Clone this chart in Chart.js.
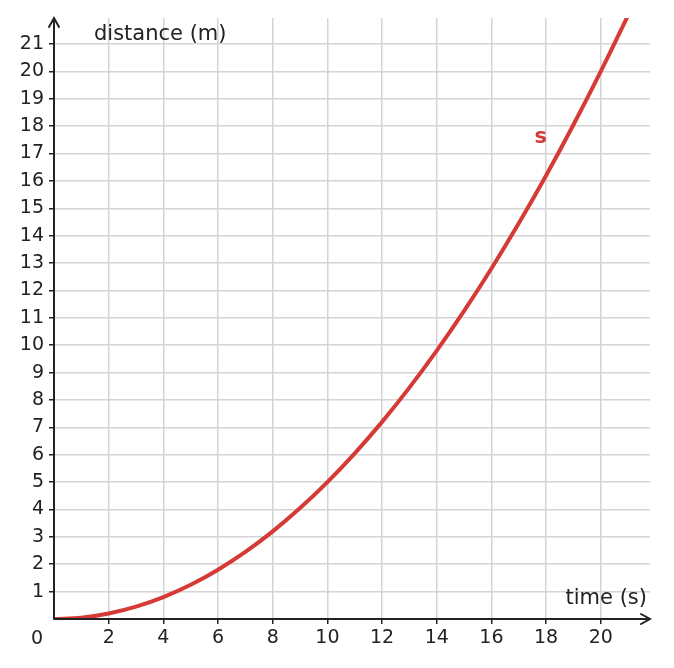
<!DOCTYPE html><html><head><meta charset="utf-8">
<script src="https://cdn.jsdelivr.net/npm/chart.js@4"></script>
<style>body{margin:0;background:#fff}#w{width:674px;height:668px}</style></head><body>
<div id="w"><canvas id="c"></canvas></div>
<script>
const times=[0,1,2,3,4,5,6,7,8,9,10,11,12,13,14,15,16,17,18,19,20,21,21.5];
const distances=[0,0.05,0.2,0.45,0.8,1.25,1.8,2.45,3.2,4.05,5,6.05,7.2,8.45,9.8,11.25,12.8,14.45,16.2,18.05,20,22.05,23.1];
const xTicks=[2,4,6,8,10,12,14,16,18,20];
const yTicks=[1,2,3,4,5,6,7,8,9,10,11,12,13,14,15,16,17,18,19,20,21];
const F='"DejaVu Sans", sans-serif', ink='#222', red='#d63a36';
const deco={id:'deco',afterDraw(ch){
 const c=ch.ctx,a=ch.chartArea,x=ch.scales.x,y=ch.scales.y;
 c.save();c.strokeStyle=ink;c.lineWidth=2;c.lineCap='round';
 const x0=x.getPixelForValue(0),y0=y.getPixelForValue(0);
 c.beginPath();c.moveTo(x0,y0);c.lineTo(a.right,y0);c.moveTo(a.right-9,y0-5);c.lineTo(a.right,y0);c.lineTo(a.right-9,y0+5);
 c.moveTo(x0,y0);c.lineTo(x0,a.top);c.moveTo(x0-5,a.top+9);c.lineTo(x0,a.top);c.lineTo(x0+5,a.top+9);c.stroke();
 c.font='21px '+F;c.fillStyle=ink;c.textBaseline='middle';
 c.textAlign='left';c.fillText('distance (m)',94,y.getPixelForValue(21.35));
 c.textAlign='right';c.fillText('time (s)',a.right-3,y.getPixelForValue(0.75));
 c.font='19px '+F;c.textAlign='center';c.fillText('0',x0-17,y0+20);
 c.font='bold 21px '+F;c.fillStyle=red;c.fillText('s',x.getPixelForValue(17.8),y.getPixelForValue(17.6));
 c.restore();}};
new Chart(document.getElementById('c'),{type:'scatter',
 data:{datasets:[{data:times.map((t,i)=>({x:t,y:distances[i]})),showLine:true,borderColor:red,borderWidth:4,pointRadius:0,tension:0.4,fill:false}]},
 options:{responsive:true,maintainAspectRatio:false,animation:false,
  layout:{padding:{top:18,right:24,left:0,bottom:0}},
  plugins:{legend:{display:false},tooltip:{enabled:false}},
  scales:{
   x:{type:'linear',min:0,max:21.8,afterBuildTicks:s=>{s.ticks=xTicks.map(v=>({value:v}))},afterFit:s=>{s.height=49},
      grid:{color:'#d4d4d4',lineWidth:1.5,tickColor:ink,tickLength:5},border:{display:false},
      ticks:{color:ink,font:{family:F,size:19},padding:3,maxRotation:0}},
   y:{type:'linear',min:0,max:21.95,afterBuildTicks:s=>{s.ticks=yTicks.map(v=>({value:v}))},afterFit:s=>{s.width=54},
      grid:{color:'#d4d4d4',lineWidth:1.5,tickColor:ink,tickLength:5},border:{display:false},
      ticks:{color:ink,font:{family:F,size:19},padding:5}}}},
 plugins:[deco]});
</script></body></html>
